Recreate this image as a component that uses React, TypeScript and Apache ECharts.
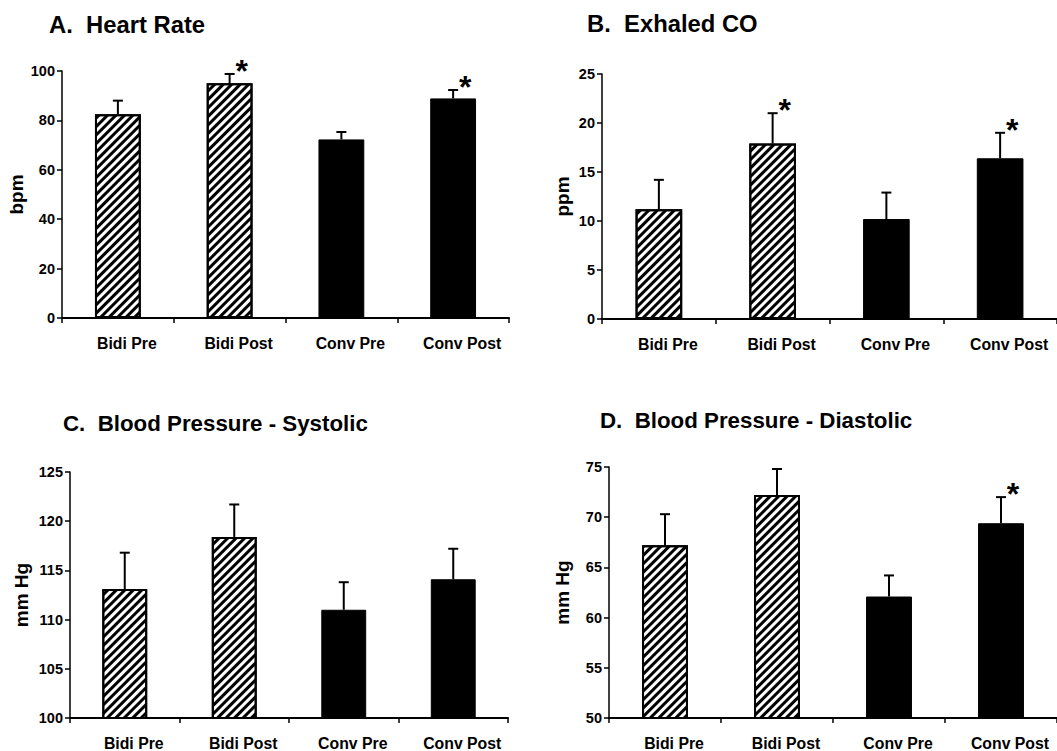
import React, { useEffect, useRef } from 'react';
import * as echarts from 'echarts';

const categories = ['Bidi Pre', 'Bidi Post', 'Conv Pre', 'Conv Post'];
const categoryGroup = ['Bidi', 'Bidi', 'Conv', 'Conv'];

const heartRateMean = [82.5, 95.0, 72.3, 88.9];
const heartRateErr = [5.5, 3.8, 3.0, 3.4];
const heartRateSig = [0, 1, 0, 1];

const coMean = [11.2, 17.9, 10.2, 16.4];
const coErr = [3.0, 3.1, 2.7, 2.6];
const coSig = [0, 1, 0, 1];

const systolicMean = [113.1, 118.4, 111.0, 114.1];
const systolicErr = [3.7, 3.3, 2.8, 3.1];
const systolicSig = [0, 0, 0, 0];

const diastolicMean = [67.2, 72.2, 62.1, 69.4];
const diastolicErr = [3.1, 2.6, 2.1, 2.6];
const diastolicSig = [0, 0, 0, 1];

const heartRateAxis = [0, 100, 20];
const coAxis = [0, 25, 5];
const systolicAxis = [100, 125, 5];
const diastolicAxis = [50, 75, 5];

const FONT = '"Liberation Sans", Arial, Helvetica, sans-serif';

const panels = [
  { title: 'A.  Heart Rate', tx: 49, ty: 24, ts: 23.8, yName: 'bpm', nameGap: 36, grid: { left: 62, top: 71, width: 447, height: 247 }, axis: heartRateAxis, mean: heartRateMean, err: heartRateErr, sig: heartRateSig },
  { title: 'B.  Exhaled CO', tx: 587, ty: 23, ts: 23.8, yName: 'ppm', nameGap: 30, grid: { left: 602, top: 74, width: 459, height: 245 }, axis: coAxis, mean: coMean, err: coErr, sig: coSig },
  { title: 'C.  Blood Pressure - Systolic', tx: 63, ty: 423, ts: 22.3, yName: 'mm Hg', nameGap: 39, grid: { left: 70, top: 472, width: 438, height: 248 }, axis: systolicAxis, mean: systolicMean, err: systolicErr, sig: systolicSig },
  { title: 'D.  Blood Pressure - Diastolic', tx: 600, ty: 420, ts: 22.3, yName: 'mm Hg', nameGap: 37, grid: { left: 609, top: 467, width: 454, height: 254 }, axis: diastolicAxis, mean: diastolicMean, err: diastolicErr, sig: diastolicSig },
];

const hatchDecal = {
  symbol: 'rect',
  symbolSize: 1,
  color: '#000',
  dashArrayX: [1, 0],
  dashArrayY: [3, 3],
  rotation: -Math.PI / 4,
};

function buildOption() {
  const grid: any[] = [];
  const xAxis: any[] = [];
  const yAxis: any[] = [];
  const series: any[] = [];
  const graphic: any[] = [];

  panels.forEach((p, gi) => {
    grid.push({ ...p.grid, containLabel: false });
    xAxis.push({
      type: 'category',
      gridIndex: gi,
      data: categories,
      axisLine: { show: true, lineStyle: { color: '#000', width: 2 } },
      axisTick: { show: true, length: 5, lineStyle: { color: '#000', width: 1.5 } },
      axisLabel: {
        interval: 0,
        color: '#000',
        fontSize: 15.8,
        fontWeight: 'bold',
        fontFamily: FONT,
        margin: 17,
        padding: [0, 0, 0, 18],
      },
      splitLine: { show: false },
    });
    yAxis.push({
      type: 'value',
      gridIndex: gi,
      min: p.axis[0],
      max: p.axis[1],
      interval: p.axis[2],
      name: p.yName,
      nameLocation: 'middle',
      nameGap: p.nameGap,
      nameTextStyle: { color: '#000', fontSize: 19, fontWeight: 'bold', fontFamily: FONT },
      axisLine: { show: true, lineStyle: { color: '#000', width: 1.5 } },
      axisTick: { show: true, length: 5, lineStyle: { color: '#000', width: 1.5 } },
      axisLabel: { color: '#000', fontSize: 14.5, fontWeight: 'bold', fontFamily: FONT, margin: 7 },
      splitLine: { show: false },
    });
    series.push({
      type: 'bar',
      xAxisIndex: gi,
      yAxisIndex: gi,
      barWidth: '41%',
      data: p.mean.map((v, i) =>
        categoryGroup[i] === 'Bidi'
          ? { value: v, itemStyle: { color: '#fff', borderColor: '#000', borderWidth: 2, decal: hatchDecal } }
          : { value: v, itemStyle: { color: '#000', borderColor: '#000', borderWidth: 1 } }
      ),
    });
    series.push({
      type: 'custom',
      xAxisIndex: gi,
      yAxisIndex: gi,
      clip: false,
      z: 5,
      encode: { x: 0, y: 2 },
      data: p.mean.map((v, i) => [i, v, v + p.err[i], p.sig[i]]),
      renderItem: (params: any, api: any) => {
        const idx = api.value(0);
        const top = api.coord([idx, api.value(2)]);
        const base = api.coord([idx, api.value(1)]);
        const cap = 5;
        const children: any[] = [
          { type: 'line', shape: { x1: top[0], y1: base[1], x2: top[0], y2: top[1] }, style: { stroke: '#000', lineWidth: 2 } },
          { type: 'line', shape: { x1: top[0] - cap, y1: top[1], x2: top[0] + cap, y2: top[1] }, style: { stroke: '#000', lineWidth: 2 } },
        ];
        if (api.value(3) === 1) {
          children.push({
            type: 'text',
            x: top[0] + 12,
            y: top[1] - 3,
            style: { text: '*', fontSize: 32, fontWeight: 'bold', fontFamily: FONT, fill: '#000', align: 'center', verticalAlign: 'middle' },
          });
        }
        return { type: 'group', children };
      },
    });
    graphic.push({
      type: 'text',
      x: p.tx,
      y: p.ty,
      style: { text: p.title, fontSize: p.ts, fontWeight: 'bold', fontFamily: FONT, fill: '#000', align: 'left', verticalAlign: 'middle' },
    });
  });

  return {
    animation: false,
    backgroundColor: '#fff',
    grid,
    xAxis,
    yAxis,
    series,
    graphic,
  };
}

export default function App() {
  const ref = useRef<HTMLDivElement>(null);
  useEffect(() => {
    if (!ref.current) return;
    const chart = echarts.init(ref.current, undefined, { renderer: 'svg' });
    chart.setOption(buildOption() as any);
    return () => chart.dispose();
  }, []);
  return <div ref={ref} style={{ position: 'absolute', left: 0, top: 0, width: 1057, height: 751 }} />;
}
